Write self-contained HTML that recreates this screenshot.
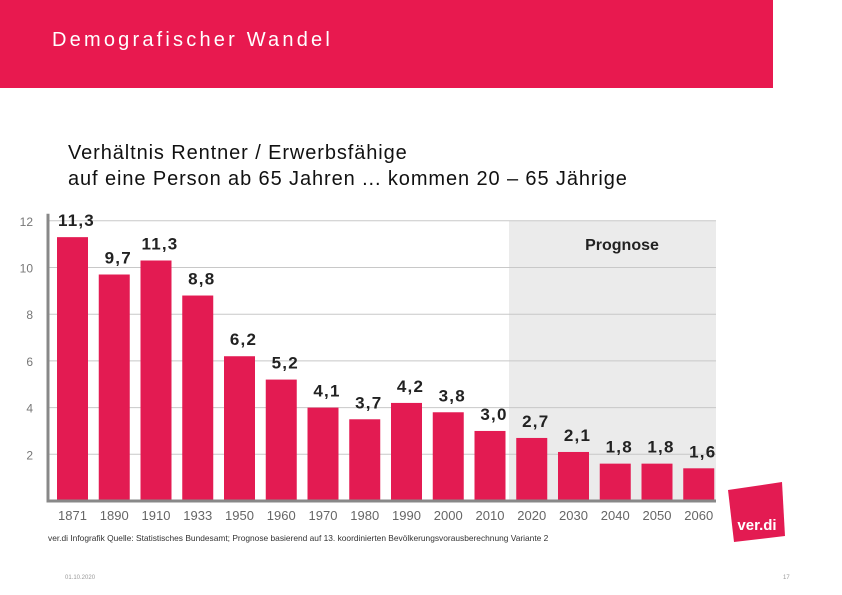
<!DOCTYPE html>
<html><head><meta charset="utf-8">
<style>
body{margin:0;width:842px;height:595px;background:#fff;position:relative;overflow:hidden;font-family:"Liberation Sans",sans-serif}
.hdr{position:absolute;left:0;top:0;width:773px;height:88px;background:#e8194f}
.hdr span{position:absolute;left:52px;top:29px;color:#fff;font-size:20px;letter-spacing:3.2px}
.sub{position:absolute;left:68px;top:140px;font-size:20px;line-height:26px;color:#111;letter-spacing:0.9px}
</style></head><body>
<div class="hdr"><span>Demografischer Wandel</span></div>
<div class="sub">Verhältnis Rentner / Erwerbsfähige<br>auf eine Person ab 65 Jahren ... kommen 20 – 65 Jährige</div>
<svg id="chart" width="842" height="595" style="position:absolute;left:0;top:0"></svg>
<script>
const categories=["1871","1890","1910","1933","1950","1960","1970","1980","1990","2000","2010","2020","2030","2040","2050","2060"];
const values=[11.3,9.7,10.3,8.8,6.2,5.2,4.0,3.5,4.2,3.8,3.0,2.7,2.1,1.6,1.6,1.4];
const valueLabels=["11,3","9,7","11,3","8,8","6,2","5,2","4,1","3,7","4,2","3,8","3,0","2,7","2,1","1,8","1,8","1,6"];
const yTicks=[2,4,6,8,10,12];
const NS="http://www.w3.org/2000/svg";
const svg=document.getElementById('chart');
const x0=48,x1=716,yBase=501,pxPer=23.35,barW=31;
const y=v=>yBase-v*pxPer;
const bx=i=>57+i*41.75;
function mk(t,a){const e=document.createElementNS(NS,t);for(const k in a)e.setAttribute(k,a[k]);svg.appendChild(e);return e;}
let e=mk('rect',{x:509,y:y(12),width:x1-509,height:yBase-y(12),fill:'#ebebeb'});


yTicks.forEach(t=>{
 let l=mk('line',{x1:x0,x2:x1,y1:y(t),y2:y(t),stroke:'#c8c8c8','stroke-width':1});
 
 
 let tx=mk('text',{x:33,y:y(t)+5,'text-anchor':'end','font-size':12,fill:'#777'});tx.textContent=t;
 
 
});
let pg=mk('text',{x:622,y:250,'text-anchor':'middle','font-size':16,'font-weight':'bold',fill:'#222'});pg.textContent='Prognose';


categories.forEach((c,i)=>{
 let r=mk('rect',{x:bx(i),y:y(values[i]),width:barW,height:yBase-y(values[i]),fill:'#e31b52'});
 
 
 let vl=mk('text',{x:bx(i)+barW/2+4,y:y(values[i])-11,'text-anchor':'middle','font-size':17,'font-weight':'bold','letter-spacing':1.2,fill:'#222'});vl.textContent=valueLabels[i];
 
 
 let cl=mk('text',{x:bx(i)+barW/2,y:520,'text-anchor':'middle','font-size':13,fill:'#666'});cl.textContent=c;
 
 
});
let ax=mk('polyline',{points:`${x0},${y(12.3)} ${x0},${yBase} ${x1},${yBase}`,fill:'none',stroke:'#888','stroke-width':3});


let src=mk('text',{x:48,y:541,'font-size':8.4,fill:'#333'});src.textContent='ver.di Infografik    Quelle: Statistisches Bundesamt; Prognose basierend auf 13. koordinierten Bevölkerungsvorausberechnung Variante 2';


let lg=mk('polygon',{points:'728,490 782,482 785,536 734,542',fill:'#e31b52'});


let lt=mk('text',{x:757,y:530,'text-anchor':'middle','font-size':15,'font-weight':'bold',fill:'#fff'});lt.textContent='ver.di';


let d=mk('text',{x:65,y:579,'font-size':6,fill:'#999'});d.textContent='01.10.2020';


let p=mk('text',{x:783,y:579,'font-size':6,fill:'#999'});p.textContent='17';


</script>
</body></html>
